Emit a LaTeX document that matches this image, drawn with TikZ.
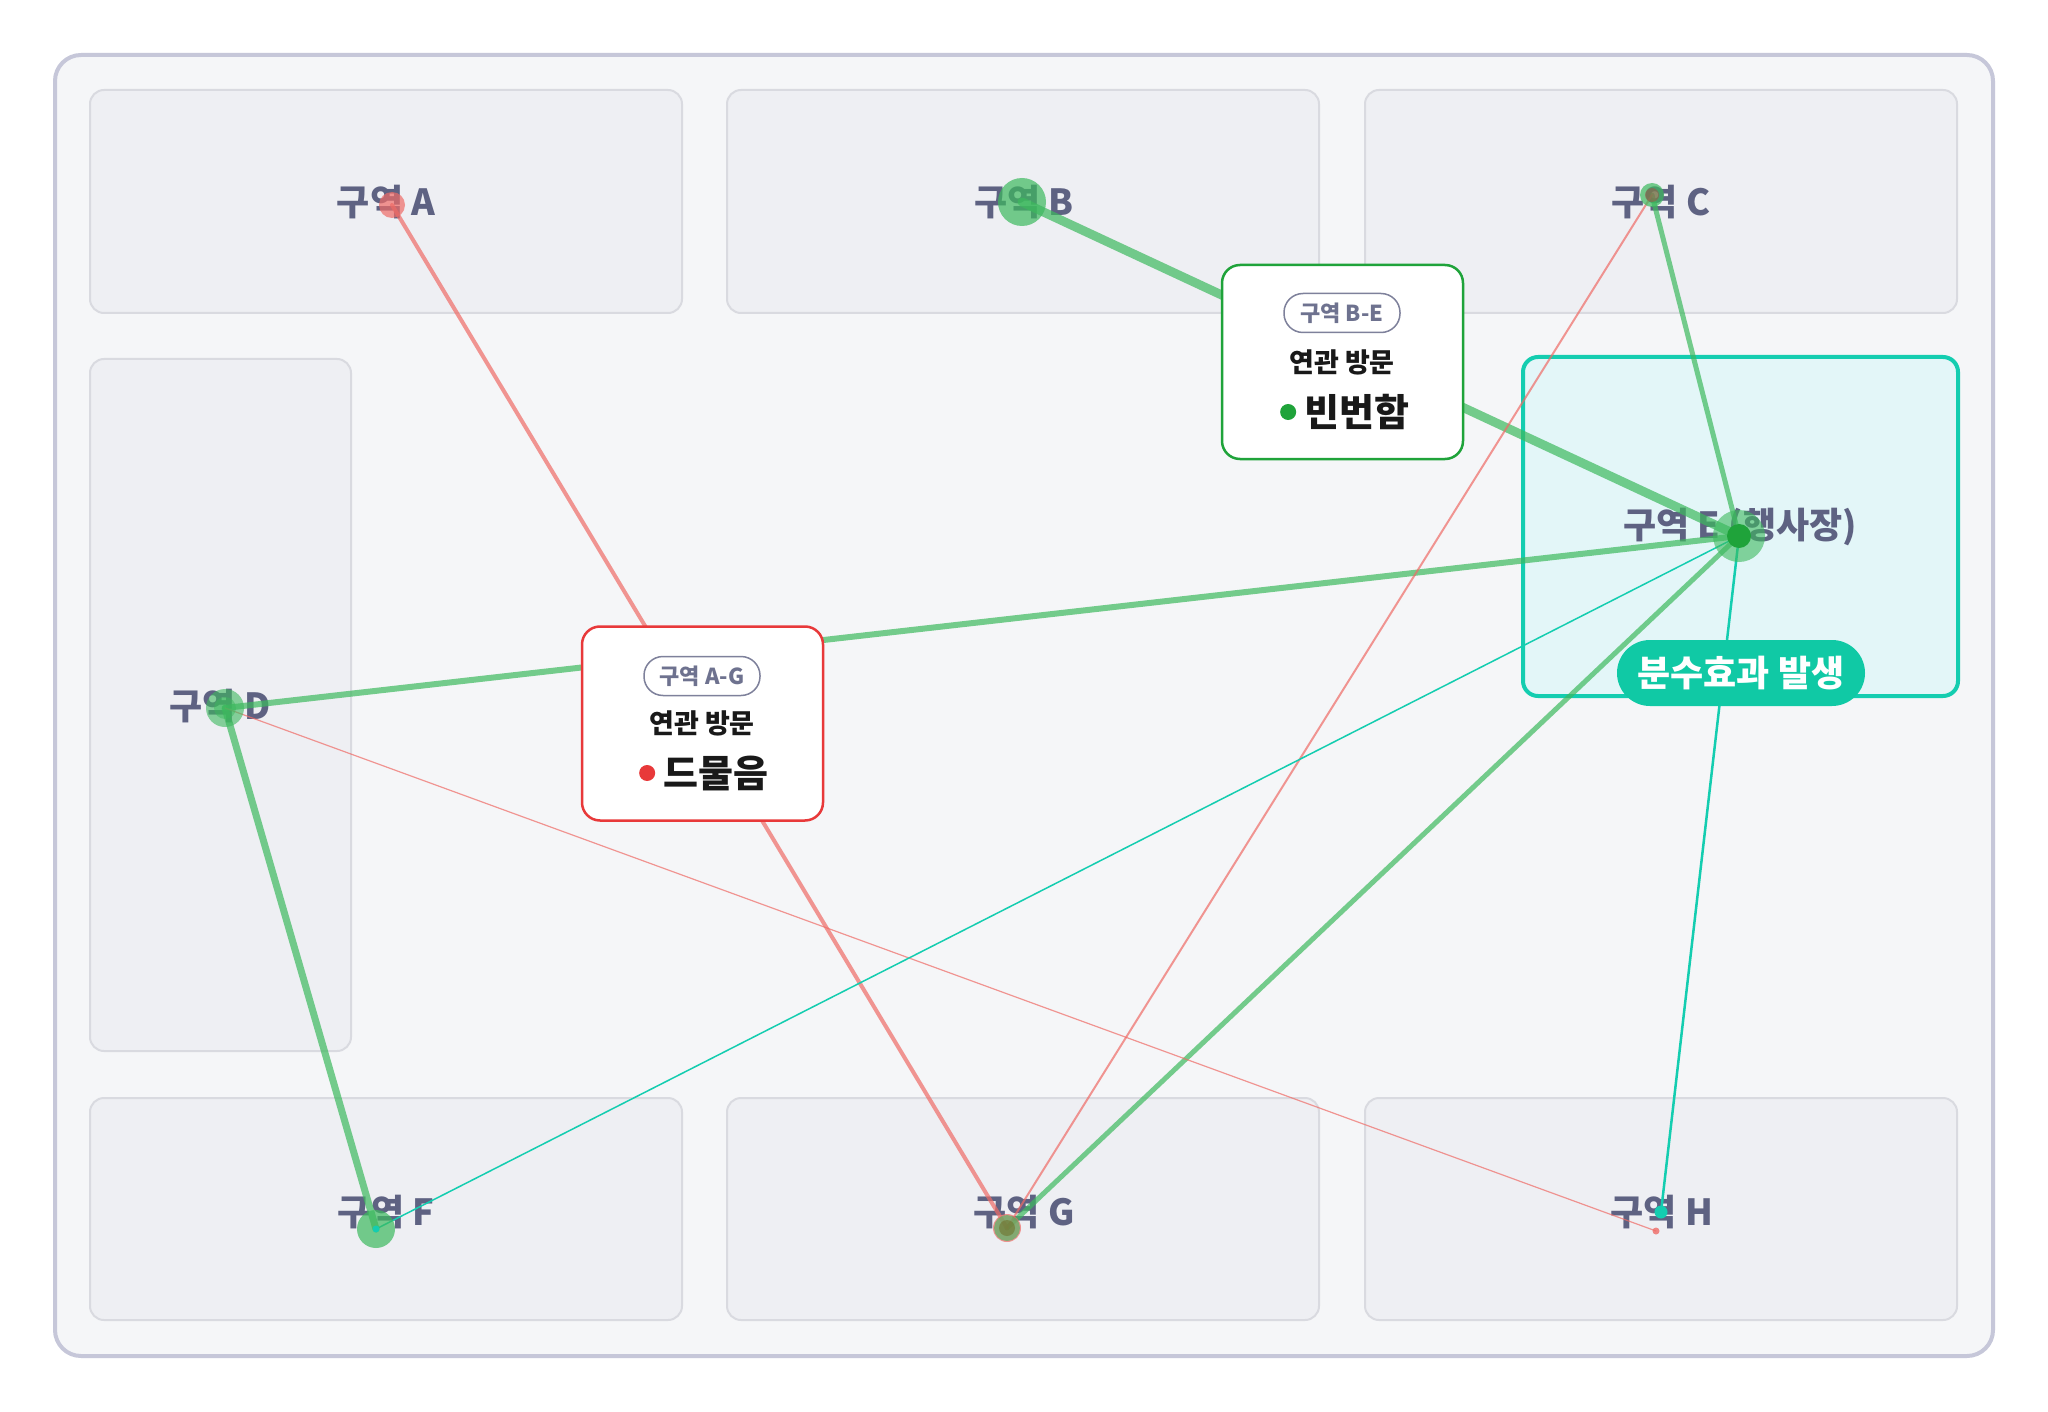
\documentclass[tikz,border=0pt]{standalone}
\usepackage{fontspec}
\setmainfont{Noto Sans CJK KR}
\usetikzlibrary{positioning}
\definecolor{panelfill}{HTML}{F5F6F8}
\definecolor{panelline}{HTML}{C6C7D9}
\definecolor{zonefill}{HTML}{EEEFF3}
\definecolor{zoneline}{HTML}{D9DAE0}
\definecolor{labelgray}{HTML}{5E6282}
\definecolor{linkgreen}{HTML}{3DB95E}
\definecolor{linkred}{HTML}{EF6B66}
\definecolor{linkteal}{HTML}{14CDB0}
\definecolor{hotfill}{HTML}{E3F6F8}
\definecolor{okgreen}{HTML}{1FA33A}
\definecolor{lowred}{HTML}{E8393A}
\definecolor{pillteal}{HTML}{10C9A5}

\begin{document}
\begin{tikzpicture}[x=1pt,y=-1pt,
  zone/.style={draw=zoneline,line width=2pt,fill=zonefill,rounded corners=14pt},
  zlabel/.style={text=labelgray,font=\fontsize{36}{42}\selectfont\bfseries,inner sep=0pt},
  link/.style={line cap=round,opacity=.7},
  callout/.style={fill=white,line width=2.5pt,rounded corners=18pt,minimum width=241pt,minimum height=194pt},
  tag/.style={draw=labelgray!80,line width=1.5pt,fill=white,rounded corners=19pt,text=labelgray!90,font=\fontsize{22}{26}\selectfont\bfseries,minimum width=116pt,minimum height=39pt,inner sep=0pt},
  visit/.style={text=black!90,font=\fontsize{27}{32}\selectfont\bfseries,inner sep=0pt},
  freq/.style={text=black!90,font=\fontsize{38}{44}\selectfont\bfseries,inner sep=0pt},
  dot/.style={circle,inner sep=0pt,minimum size=16pt}]
\useasboundingbox[fill=white] (0,0) rectangle (2048,1412);
% panel and zones
\draw[draw=panelline,line width=4pt,fill=panelfill,rounded corners=26pt] (55,55) rectangle (1993,1356);
\draw[zone] (90,90) rectangle (682,313);
\draw[zone] (727,90) rectangle (1319,313);
\draw[zone] (1365,90) rectangle (1957,313);
\draw[zone] (90,359) rectangle (351,1051);
\draw[zone] (90,1098) rectangle (682,1320);
\draw[zone] (727,1098) rectangle (1319,1320);
\draw[zone] (1365,1098) rectangle (1957,1320);
\draw[draw=linkteal,line width=4pt,fill=hotfill,rounded corners=15pt] (1523,357) rectangle (1958,696);
% zone labels
\node[zlabel] (lA) at (386,202) {구역 A};
\node[zlabel] (lB) at (1024,202) {구역 B};
\node[zlabel] (lC) at (1661,202) {구역 C};
\node[zlabel] (lD) at (220,706) {구역 D};
\node[zlabel] (lE) at (1740,527) {구역 E (행사장)};
\node[zlabel] (lF) at (386,1212) {구역 F};
\node[zlabel] (lG) at (1024,1212) {구역 G};
\node[zlabel] (lH) at (1662,1212) {구역 H};
% end points
\coordinate (pA) at (392,205);
\coordinate (pB) at (1022,202);
\coordinate (pC) at (1652,195);
\coordinate (pD) at (225,708);
\coordinate (pE) at (1739,536);
\coordinate (pF) at (376,1229);
\coordinate (pG) at (1007,1228);
\coordinate (pH) at (1661,1212);
\coordinate (pHr) at (1656,1231);
% links
\draw[link,linkgreen,line width=9pt] (pB) -- (pE);
\draw[link,linkgreen,line width=5pt] (pC) -- (pE);
\draw[link,linkgreen,line width=6pt] (pD) -- (pE);
\draw[link,linkgreen,line width=7pt] (pD) -- (pF);
\draw[link,linkgreen,line width=5pt] (pE) -- (pG);
\draw[link,linkred,line width=4pt] (pA) -- (pG);
\draw[link,linkred,line width=2pt] (pC) -- (pG);
\draw[link,linkred,line width=1.2pt] (pD) -- (pHr);
\draw[linkteal,line width=1.5pt] (pE) -- (pF);
\draw[linkteal,line width=2.5pt] (pE) -- (pH);
% point marks
\fill[linkred,opacity=.7] (pA) circle[radius=13];
\fill[linkgreen,opacity=.7] (pB) circle[radius=24];
\fill[linkgreen,opacity=.7] (pC) circle[radius=12];
\fill[linkred!70!black,opacity=.5] (pC) circle[radius=7];
\fill[linkgreen,opacity=.6] (pD) circle[radius=19];
\fill[linkgreen,opacity=.5] (pD) circle[radius=11];
\fill[linkgreen,opacity=.6] (pE) circle[radius=26];
\fill[okgreen] (pE) circle[radius=12];
\fill[linkgreen,opacity=.7] (pF) circle[radius=19];
\fill[linkteal] (pF) circle[radius=3.5];
\fill[linkred,opacity=.7] (pG) circle[radius=14];
\fill[linkgreen,opacity=.6] (pG) circle[radius=13];
\fill[olive!70!black,opacity=.5] (pG) circle[radius=8];
\fill[linkteal] (pH) circle[radius=6.5];
\fill[linkred,opacity=.8] (pHr) circle[radius=3.5];
% callouts
\node[callout,draw=okgreen] (cBE) at (1342.5,362) {};
\node[tag] (tBE) at (1342,313) {구역 B-E};
\node[visit] (vBE) at (1342,362) {연관 방문};
\node[freq] (fBE) at (1357,412) {빈번함};
\node[dot,fill=okgreen,left=8pt of fBE] (dBE) {};
\node[callout,draw=lowred] (cAG) at (702.5,723.5) {};
\node[tag] (tAG) at (702,676) {구역 A-G};
\node[visit] (vAG) at (702,723) {연관 방문};
\node[freq] (fAG) at (716,773) {드물음};
\node[dot,fill=lowred,left=8pt of fAG] (dAG) {};
\node[fill=pillteal,text=white,rounded corners=33pt,minimum width=248pt,minimum height=66pt,inner sep=0pt,font=\fontsize{36}{42}\selectfont\bfseries] (fountain) at (1741,673) {분수효과 발생};
\end{tikzpicture}
\end{document}
